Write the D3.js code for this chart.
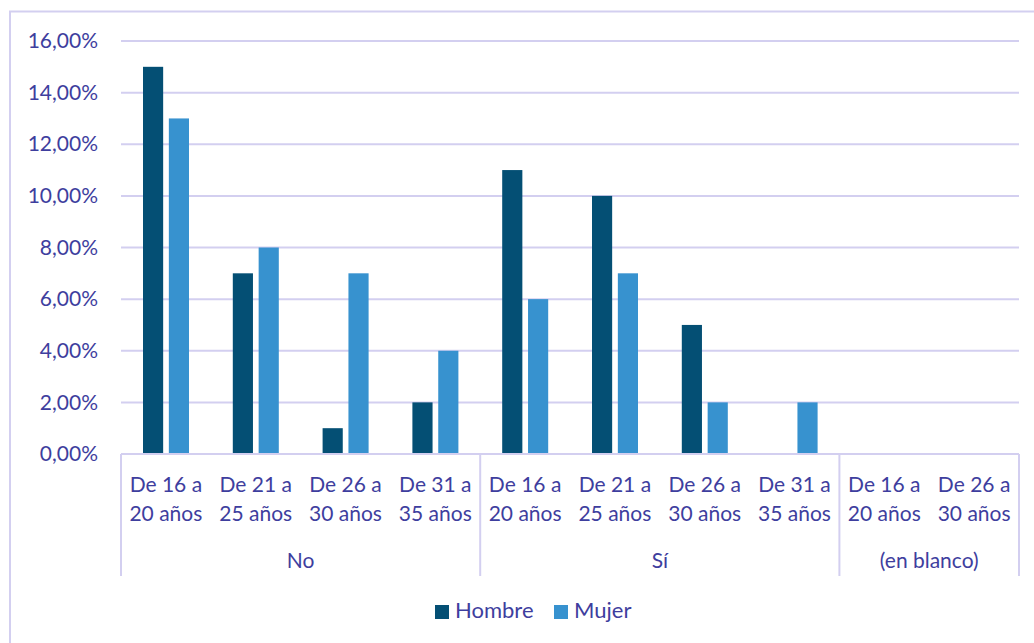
<!DOCTYPE html>
<html>
<head>
<meta charset="utf-8">
<script src="https://cdn.jsdelivr.net/npm/d3@7"></script>
<style>
  html, body { margin: 0; padding: 0; background: #fff; }
  svg { display: block; }
  text { font-family: Lato, "Open Sans", sans-serif; fill: #3E3E9E; }
</style>
</head>
<body>
<svg id="chart" width="1034" height="643"></svg>
<script>
const groups = ["No", "Sí", "(en blanco)"];
const ageLabels = [
  ["De 16 a", "20 años"], ["De 21 a", "25 años"], ["De 26 a", "30 años"], ["De 31 a", "35 años"],
  ["De 16 a", "20 años"], ["De 21 a", "25 años"], ["De 26 a", "30 años"], ["De 31 a", "35 años"],
  ["De 16 a", "20 años"], ["De 26 a", "30 años"]
];
const groupOf = [0, 0, 0, 0, 1, 1, 1, 1, 2, 2];
const seriesNames = ["Hombre", "Mujer"];
const hombre = [0.15, 0.07, 0.01, 0.02, 0.11, 0.10, 0.05, 0, 0, 0];
const mujer  = [0.13, 0.08, 0.07, 0.04, 0.06, 0.07, 0.02, 0.02, 0, 0];
const yTicks = [0, 0.02, 0.04, 0.06, 0.08, 0.10, 0.12, 0.14, 0.16];
const colors = ["#044F74", "#3792CF"];

(function () {
const svg = d3.select("#chart");
const gridColor = "#D3CFF0";
const plotLeft = 121, plotRight = 1019, plotTop = 41, plotBottom = 454;
const fs = 21;

// chart border
svg.append("rect").attr("x", 10).attr("y", 11.5).attr("width", 1040).attr("height", 660)
  .attr("fill", "none").attr("stroke", gridColor).attr("stroke-width", 2);

const idx = d3.range(ageLabels.length);
const x = d3.scaleBand().domain(idx).range([plotLeft, plotRight]).paddingInner(0).paddingOuter(0);
const x1 = d3.scaleBand().domain(seriesNames).range([22, 68]).paddingInner(0.22).paddingOuter(0);
const y = d3.scaleLinear().domain([0, 0.16]).range([plotBottom, plotTop]);

// gridlines
svg.append("g").selectAll("line").data(yTicks.filter(d => d > 0)).join("line")
  .attr("x1", plotLeft).attr("x2", plotRight)
  .attr("y1", d => y(d)).attr("y2", d => y(d))
  .attr("stroke", gridColor).attr("stroke-width", 2);

// y axis labels
const fmt = d => (d * 100).toFixed(2).replace(".", ",") + "%";
const yAxis = d3.axisLeft(y).tickValues(yTicks).tickFormat(fmt).tickSize(0).tickPadding(23);
const gy = svg.append("g").attr("transform", `translate(${plotLeft},0)`).call(yAxis);
gy.select(".domain").remove();
gy.selectAll("text").attr("font-size", fs).attr("fill", "#3E3E9E").attr("font-family", "Lato, 'Open Sans', sans-serif");

// bars
const data = idx.map(i => ({ i, vals: [hombre[i], mujer[i]] }));
const gBars = svg.append("g");
data.forEach(d => {
  d.vals.forEach((v, k) => {
    if (v <= 0) return;
    gBars.append("rect")
      .attr("x", x(d.i) + x1(seriesNames[k]))
      .attr("y", y(v))
      .attr("width", x1.bandwidth())
      .attr("height", y(0) - y(v))
      .attr("fill", colors[k]);
  });
});

// x axis baseline
svg.append("line").attr("x1", plotLeft).attr("x2", plotRight).attr("y1", plotBottom).attr("y2", plotBottom)
  .attr("stroke", gridColor).attr("stroke-width", 2);

// group separators
const groupStarts = [];
groups.forEach((g, gi) => {
  const members = idx.filter(i => groupOf[i] === gi);
  groupStarts.push({ g, start: x(members[0]), end: x(members[members.length - 1]) + x.bandwidth() });
});
const seps = [groupStarts[0].start].concat(groupStarts.map(d => d.end));
svg.append("g").selectAll("line").data(seps).join("line")
  .attr("x1", d => d).attr("x2", d => d).attr("y1", plotBottom).attr("y2", 576)
  .attr("stroke", gridColor).attr("stroke-width", 2);

// category labels
const gCat = svg.append("g");
idx.forEach(i => {
  const cx = x(i) + x.bandwidth() / 2;
  const t = gCat.append("text").attr("text-anchor", "middle").attr("font-size", fs);
  t.append("tspan").attr("x", cx).attr("y", 491.5).text(ageLabels[i][0]);
  t.append("tspan").attr("x", cx).attr("y", 520.5).text(ageLabels[i][1]);
});

// group labels
svg.append("g").selectAll("text").data(groupStarts).join("text")
  .attr("x", d => (d.start + d.end) / 2).attr("y", 567.5)
  .attr("text-anchor", "middle").attr("font-size", fs).text(d => d.g);

// legend
const legendItems = [
  { name: seriesNames[0], color: colors[0], sx: 435, tx: 455 },
  { name: seriesNames[1], color: colors[1], sx: 554, tx: 574 }
];
const gl = svg.append("g");
legendItems.forEach(it => {
  gl.append("rect").attr("x", it.sx).attr("y", 605).attr("width", 14).attr("height", 14).attr("fill", it.color);
  gl.append("text").attr("x", it.tx).attr("y", 618).attr("font-size", 22).text(it.name);
});
})();
</script>
</body>
</html>
